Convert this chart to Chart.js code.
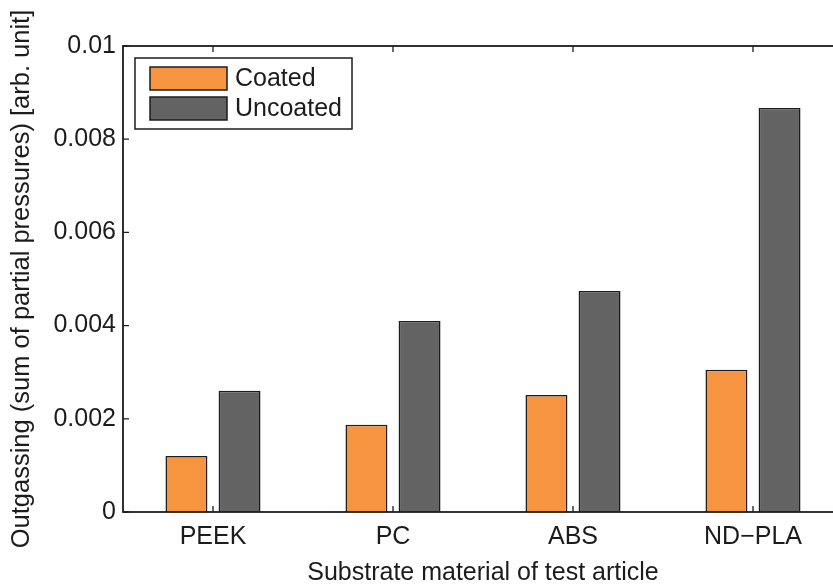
<!DOCTYPE html>
<html>
<head>
<meta charset="utf-8">
<script src="https://cdn.jsdelivr.net/npm/chart.js@4/dist/chart.umd.min.js"></script>
<style>
  html, body { margin: 0; padding: 0; background: #fff; overflow: hidden; }
  #wrap { width: 833px; height: 584px; overflow: hidden; }
</style>
</head>
<body>
<div id="wrap"><canvas id="chart" width="852" height="584"></canvas></div>
<script>
// --- data ---
const materials = ["PEEK", "PC", "ABS", "ND\u2212PLA"];
const coated = [0.00120, 0.00187, 0.00251, 0.00305];
const uncoated = [0.00260, 0.00410, 0.00474, 0.00867];
const yTicks = [0, 0.002, 0.004, 0.006, 0.008, 0.01];

const FONT = "'Liberation Sans', Arial, Helvetica, sans-serif";
const INK = "#1c1c1c";

// box round the plot, inward ticks (matlab style) and the legend
const framePlugin = {
    id: "frame",
    afterDatasetsDraw(chart) {
        const ctx = chart.ctx;
        const a = chart.chartArea;
        const xs = chart.scales.x, ys = chart.scales.y;
        ctx.save();
        ctx.strokeStyle = INK;
        ctx.lineWidth = 1.8;
        ctx.strokeRect(a.left, a.top, a.right - a.left, a.bottom - a.top);

        ctx.lineWidth = 1.3;
        ctx.beginPath();
        yTicks.forEach(v => {
            const y = ys.getPixelForValue(v);
            ctx.moveTo(a.left, y); ctx.lineTo(a.left + 6, y);
            ctx.moveTo(a.right, y); ctx.lineTo(a.right - 6, y);
        });
        materials.forEach((m, i) => {
            const x = xs.getPixelForValue(i);
            ctx.moveTo(x, a.bottom); ctx.lineTo(x, a.bottom - 6);
            ctx.moveTo(x, a.top); ctx.lineTo(x, a.top + 6);
        });
        ctx.stroke();

        // legend
        const lx = a.left + 12, ly = a.top + 12;
        ctx.fillStyle = "#fff";
        ctx.fillRect(lx, ly, 217, 71);
        ctx.lineWidth = 1.5;
        ctx.strokeRect(lx, ly, 217, 71);
        chart.data.datasets.forEach((ds, i) => {
            const sy = ly + 9 + i * 30;
            ctx.fillStyle = ds.backgroundColor;
            ctx.fillRect(lx + 15, sy, 77, 23);
            ctx.lineWidth = 1.5;
            ctx.strokeRect(lx + 15, sy, 77, 23);
            ctx.fillStyle = INK;
            ctx.font = "25px " + FONT;
            ctx.textBaseline = "middle";
            ctx.fillText(ds.label, lx + 100, sy + 12);
        });
        ctx.restore();
    }
};

new Chart(document.getElementById("chart"), {
    type: "bar",
    data: {
        labels: materials,
        datasets: [
            { label: "Coated", data: coated, backgroundColor: "#f7943f", borderColor: INK, borderWidth: 1.5 },
            { label: "Uncoated", data: uncoated, backgroundColor: "#636363", borderColor: INK, borderWidth: 1.5 }
        ]
    },
    options: {
        responsive: false,
        animation: false,
        categoryPercentage: 0.59,
        barPercentage: 0.79,
        layout: { padding: { top: 46, right: 9, left: 0, bottom: 0 } },
        plugins: { legend: { display: false }, tooltip: { enabled: false } },
        scales: {
            x: {
                grid: { display: false, drawTicks: false },
                border: { display: false },
                ticks: { color: INK, font: { family: FONT, size: 25 }, padding: 10 },
                title: { display: true, text: "Substrate material of test article", color: INK,
                         font: { family: FONT, size: 25, lineHeight: 0.9 }, padding: { top: 0, bottom: 0 } },
                afterFit: s => { s.height = 72; }
            },
            y: {
                min: 0, max: 0.01,
                afterBuildTicks: s => { s.ticks = yTicks.map(v => ({ value: v })); },
                grid: { display: false, drawTicks: false },
                border: { display: false },
                ticks: {
                    color: INK, font: { family: FONT, size: 25 }, padding: 7,
                    callback: v => String(parseFloat(v.toFixed(3)))
                },
                title: { display: true, text: "Outgassing (sum of partial pressures) [arb. unit]", color: INK,
                         font: { family: FONT, size: 25.5 }, padding: { top: 7, bottom: 0 } },
                afterFit: s => { s.width = 123; }
            }
        }
    },
    plugins: [framePlugin]
});
</script>
</body>
</html>
